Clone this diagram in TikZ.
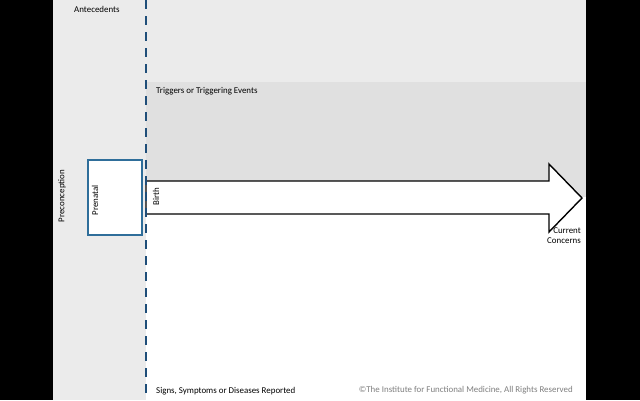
\documentclass[tikz,border=0pt]{standalone}
\usepackage{fontspec}
\setmainfont{Carlito}
\definecolor{lightbg}{HTML}{EBEBEB}
\definecolor{trigbg}{HTML}{E0E0E0}
\definecolor{dashblue}{HTML}{1F4E79}
\definecolor{boxblue}{HTML}{2F6E9A}
\definecolor{copygray}{HTML}{7F7F7F}
\tikzset{
  lbl/.style={font=\fontsize{8.9}{10.2}\selectfont, inner sep=0pt, text=black},
  rlbl/.style={lbl, rotate=90},
  divider/.style={draw=dashblue, line width=2.5pt, dash pattern=on 9pt off 7pt},
  bigarrow/.style={draw=black, fill=white, line width=1.4pt, line join=miter},
  prenatalbox/.style={draw=boxblue, fill=white, line width=1.3pt}
}
\begin{document}
\begin{tikzpicture}[x=1pt,y=-1pt]
\useasboundingbox (0,0) rectangle (640,400);
% black margins
\fill[black] (0,0) rectangle (53,400);
\fill[black] (586,0) rectangle (640,400);
% backgrounds
\fill[white] (53,0) rectangle (586,400);
\fill[lightbg] (53,0) rectangle (146,400);
\fill[lightbg] (146,0) rectangle (586,82);
\fill[trigbg] (146,82) rectangle (586,197);
% arrow
\draw[bigarrow] (146,181) -- (549,181) -- (549,164) -- (582,198) -- (549,232) -- (549,214) -- (146,214) -- cycle;
% prenatal box
\node[prenatalbox, minimum width=54pt, minimum height=75pt, inner sep=0pt] (prenatal) at (115,197.5) {};
\node[rlbl] (prenataltxt) at (95,200) {Prenatal};
% divider
\coordinate (divtop) at (146,0);
\coordinate (divbot) at (146,400);
\draw[divider] (divtop) -- (divbot);
% labels
\node[rlbl] (precon) at (62,196) {Preconception};
\node[rlbl] (birth) at (156,197) {Birth};
\node[lbl, anchor=west] (antecedents) at (74,9) {Antecedents};
\node[lbl, anchor=west] (triggers) at (156,91) {Triggers or Triggering Events};
\node[lbl, anchor=west] (signs) at (156,391) {Signs, Symptoms or Diseases Reported};
\node[lbl, anchor=east, align=right] (current) at (581,236) {Current\\Concerns};
\node[lbl, anchor=east, text=copygray] (copyright) at (573,390) {©The Institute for Functional Medicine, All Rights Reserved};
\end{tikzpicture}
\end{document}
